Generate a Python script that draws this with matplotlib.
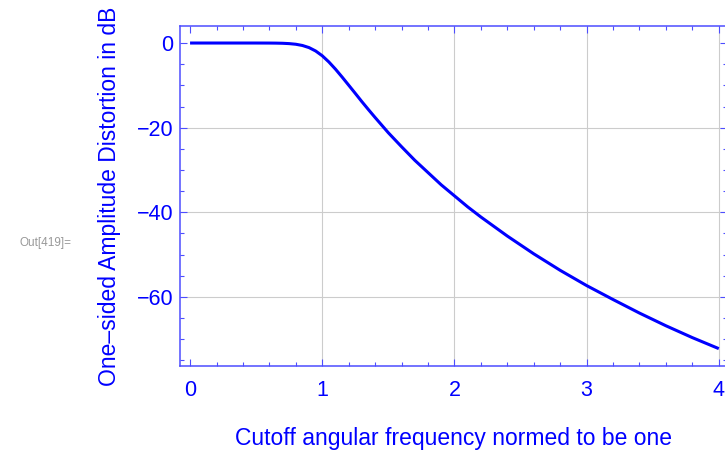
import numpy as np
from matplotlib import pyplot as plt
from matplotlib.ticker import MultipleLocator

# normed angular frequency and distortion in dB
w = [0.0, 0.1, 0.2, 0.3, 0.4, 0.5, 0.6, 0.65, 0.7, 0.75, 0.8, 0.85, 0.9, 0.95,
     1.0, 1.05, 1.1, 1.15, 1.2, 1.25, 1.3, 1.35, 1.4, 1.45, 1.5, 1.6, 1.7, 1.8, 1.9, 2.0,
     2.1, 2.2, 2.4, 2.6, 2.8, 3.0, 3.2, 3.4, 3.6, 3.8, 4.0]
db = [0.0, 0.0, 0.0, 0.0, 0.0, -0.001, -0.01, -0.025, -0.06, -0.14, -0.29, -0.58, -1.08, -1.88,
      -3.01, -4.47, -6.17, -8.03, -9.96, -11.9, -13.86, -15.75, -17.6, -19.4, -21.2, -24.5, -27.7,
      -30.6, -33.5, -36.1, -38.7, -41.1, -45.6, -49.8, -53.7, -57.3, -60.6, -63.8, -66.8, -69.6, -72.2]

x_ticks = [0, 1, 2, 3, 4]
y_ticks = [0, -20, -40, -60]
x_grid = [1, 2, 3, 4]
y_grid = [-20, -40, -60]

plt.rcParams['font.family'] = ['Liberation Sans', 'DejaVu Sans']
blue = '#0000ff'
frame = '#4d4dff'

fig = plt.figure(figsize=(7.25, 4.5), dpi=100)
ax = fig.add_axes([0.2483, 0.1867, 0.755, 0.7555])

ax.set_xlim(-0.076, 4.065)
ax.set_ylim(-76.3, 4.02)

for g in x_grid:
    ax.axvline(g, color='#cccccc', lw=0.8, zorder=0)
for g in y_grid:
    ax.axhline(g, color='#cccccc', lw=0.8, zorder=0)

ax.plot(w, db, color=blue, lw=2.2, solid_capstyle='butt')

ax.set_xticks(x_ticks)
ax.set_yticks(y_ticks)
ax.set_yticklabels(['0', '\u221220', '\u221240', '\u221260'])
ax.xaxis.set_minor_locator(MultipleLocator(0.2))
ax.yaxis.set_minor_locator(MultipleLocator(5))

ax.tick_params(which='both', direction='in', top=True, right=True, color=frame,
               labelcolor=blue, labelsize=15.5, width=0.8)
ax.tick_params(which='major', length=5)
ax.tick_params(which='minor', length=3)
ax.tick_params(axis='x', which='major', pad=10)
ax.tick_params(axis='y', which='major', pad=5)

for s in ax.spines.values():
    s.set_color(frame)
    s.set_linewidth(1.1)

ax.set_xlabel('Cutoff angular frequency normed to be one', color=blue, fontsize=16.5, labelpad=19)
ax.set_ylabel('One\u2013sided Amplitude Distortion in dB', color=blue, fontsize=16.5, labelpad=11)

fig.text(20 / 725, 1 - 243 / 450, 'Out[419]=', color='#999999', fontsize=8.5, va='center', ha='left')

fig.savefig('out.png', dpi=100)
